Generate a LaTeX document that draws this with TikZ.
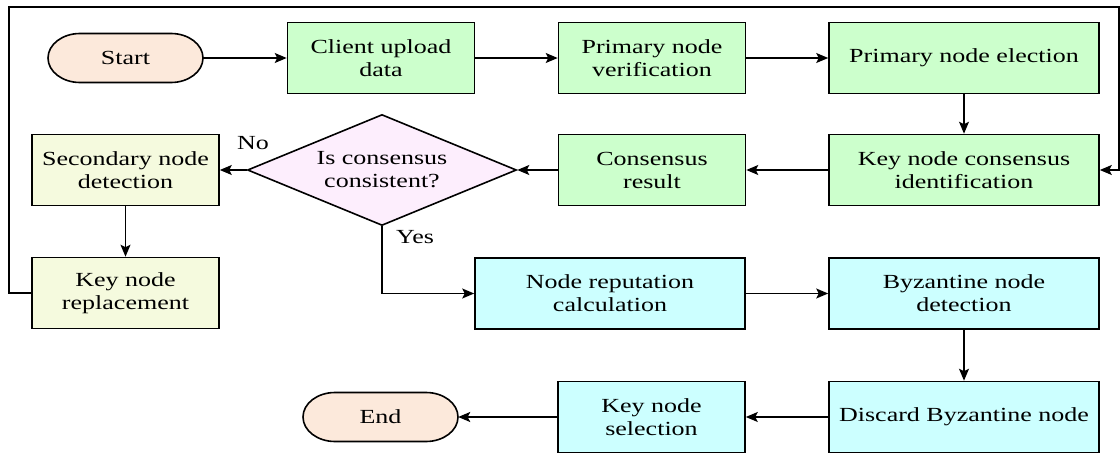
\documentclass[tikz,border=0pt]{standalone}
\usepackage{fontspec}
\setmainfont{Liberation Serif}[FakeStretch=1.3]
\usetikzlibrary{shapes.geometric,arrows.meta,backgrounds}
\definecolor{peach}{RGB}{252,233,219}
\definecolor{gfill}{RGB}{204,255,204}
\definecolor{yfill}{RGB}{245,250,222}
\definecolor{pfill}{RGB}{253,238,253}
\definecolor{cfill}{RGB}{204,255,255}
\begin{document}
\begin{tikzpicture}[x=1pt,y=-1pt,
  font=\fontsize{20}{23}\selectfont,
  box/.style={draw=black, line width=1.6pt, rectangle, inner sep=0pt, minimum height=71pt, align=center},
  narrow/.style={box, minimum width=187pt},
  wide/.style={box, minimum width=270pt},
  pilltext/.style={inner sep=0pt, minimum width=155pt, minimum height=49pt},
  pillshape/.style={draw=black, line width=1.6pt, fill=peach},
  pillpath/.style={insert path={(-45.5,-24.5) -- (45.5,-24.5) .. controls (63.17,-24.5) and (77.5,-13.53) .. (77.5,0) .. controls (77.5,13.53) and (63.17,24.5) .. (45.5,24.5) -- (-45.5,24.5) .. controls (-63.17,24.5) and (-77.5,13.53) .. (-77.5,0) .. controls (-77.5,-13.53) and (-63.17,-24.5) .. (-45.5,-24.5) -- cycle}},
  dec/.style={diamond, aspect=2.42, draw=black, fill=pfill, line width=1.6pt, inner sep=0pt, minimum width=269pt, minimum height=111pt, align=center},
  conn/.style={line width=1.4pt, -{Stealth[length=12pt,width=10pt,inset=2.5pt]}},
  lbl/.style={inner sep=0pt}
]
\useasboundingbox (0,0) rectangle (1120,455);

\node[pilltext] (start) at (125.5,58) {Start};
\node[narrow,fill=gfill] (client) at (381,58) {Client upload\\data};
\node[narrow,fill=gfill] (verif) at (652,58) {Primary node\\verification};
\node[wide,fill=gfill] (elect) at (964,58) {Primary node election};
\node[wide,fill=gfill] (keycons) at (964,170) {Key node consensus\\identification};
\node[narrow,fill=gfill] (consres) at (652,170) {Consensus\\result};
\node[dec] (dia) at (382,170) {Is consensus\\consistent?};
\node[narrow,fill=yfill] (secdet) at (125.5,170) {Secondary node\\detection};
\node[narrow,fill=yfill] (keyrep) at (125.5,293) {Key node\\replacement};
\node[wide,fill=cfill] (noderep) at (610,293.5) {Node reputation\\calculation};
\node[wide,fill=cfill] (byzdet) at (964,293.5) {Byzantine node\\detection};
\node[wide,fill=cfill] (discard) at (964,417) {Discard Byzantine node};
\node[narrow,fill=cfill] (keysel) at (651.5,417) {Key node\\selection};
\node[pilltext] (end) at (380.5,417) {End};

\node[lbl] (nolab) at (253,143) {No};
\node[lbl] (yeslab) at (415,237) {Yes};

\begin{scope}[on background layer]
  \fill[white] (0,0) rectangle (1120,455);
  \begin{scope}[shift={(start.center)}]
    \path[pillshape,pillpath];
  \end{scope}
  \begin{scope}[shift={(end.center)}]
    \path[pillshape,pillpath];
  \end{scope}
\end{scope}

\coordinate (c1) at (9,7);
\coordinate (c2) at (1119,7);

\draw[conn] (start.east) -- (client.west);
\draw[conn] (client) -- (verif);
\draw[conn] (verif) -- (elect);
\draw[conn] (elect) -- (keycons);
\draw[conn] (keycons) -- (consres);
\draw[conn] (consres) -- (dia);
\draw[conn] (dia) -- (secdet);
\draw[conn] (secdet) -- (keyrep);
\draw[conn] (dia.south) |- (noderep.west);
\draw[conn] (noderep) -- (byzdet);
\draw[conn] (byzdet) -- (discard);
\draw[conn] (discard) -- (keysel);
\draw[conn] (keysel.west) -- (end.east);
\draw[conn] (keyrep.west) -| (c1) -- (c2) |- (keycons.east);
\end{tikzpicture}
\end{document}
